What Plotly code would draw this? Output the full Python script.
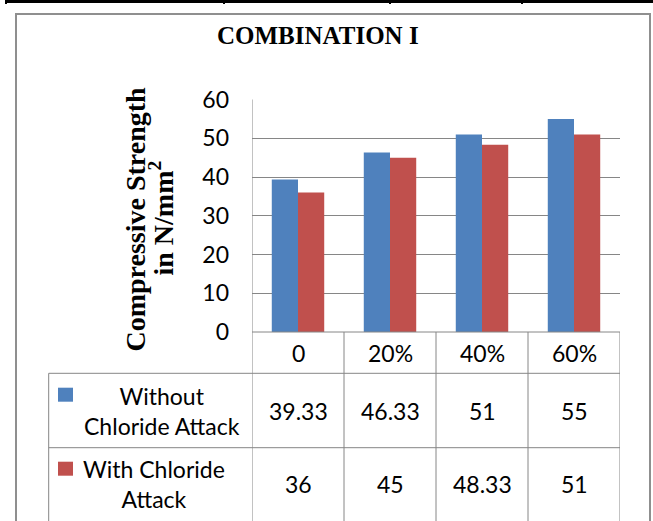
import plotly.graph_objects as go

# ---- data ----
categories = ["0", "20%", "40%", "60%"]
without_attack = [39.33, 46.33, 51, 55]
with_attack = [36, 45, 48.33, 51]
series_labels = ["Without<br>Chloride Attack", "With Chloride<br>Attack"]
series_colors = ["#4F81BD", "#C0504D"]
y_ticks = [0, 10, 20, 30, 40, 50, 60]
chart_title = "COMBINATION I"
y_title_lines = ["Compressive Strength", "in N/mm<sup>2</sup>"]

# ---- page geometry (pixels -> paper) ----
W, H = 653, 521


def px(x):
    return x / W


def py(y):
    return 1 - y / H


GRID = "#868686"
TXT_FONT = dict(family="Lato, Open Sans, sans-serif", size=23, color="black")
SERIF = "Liberation Serif, Times New Roman, serif"

PLOT_L, PLOT_R = 252, 620
PLOT_T, PLOT_B = 99.5, 332
ROW1_T, ROW2_T = 373.3, 447.7
TABLE_L = 48.7

fig = go.Figure()
fig.add_bar(x=categories, y=without_attack, marker=dict(color=series_colors[0], line=dict(width=0)),
            name="Without Chloride Attack", showlegend=False)
fig.add_bar(x=categories, y=with_attack, marker=dict(color=series_colors[1], line=dict(width=0)),
            name="With Chloride Attack", showlegend=False)

shapes = []


def line(x0, y0, x1, y1, xref="paper", color=GRID, width=1):
    shapes.append(dict(type="line", xref=xref, yref="paper", x0=x0, x1=x1,
                       y0=y0, y1=y1, line=dict(color=color, width=width), layer="above"))


# outer document-table border at the very top
line(px(6), py(1.5), px(653), py(1.5), color="black", width=3)
for xd in (6, 224, 390, 522):
    line(px(xd), py(0), px(xd), py(4), color="black", width=2)

# chart frame
shapes.append(dict(type="path", xref="paper", yref="paper",
                   path=f"M {px(16)} {py(530)} L {px(16)} {py(14)} L {px(650)} {py(14)} L {px(650)} {py(530)}",
                   line=dict(color="#8f8f8f", width=2)))

# data table grid (column borders follow the category axis)
n = len(categories)
line(px(PLOT_L), py(PLOT_B), px(PLOT_R), py(PLOT_B))
for i in range(n + 1):
    line(i - 0.5, py(PLOT_T if i == 0 else PLOT_B), i - 0.5, py(530), xref="x")
line(px(TABLE_L), py(ROW1_T), px(PLOT_R), py(ROW1_T))
line(px(TABLE_L), py(ROW2_T), px(PLOT_R), py(ROW2_T))
line(px(TABLE_L), py(ROW1_T), px(TABLE_L), py(530))

# legend keys in the table
for top, col in zip((387.7, 461.7), series_colors):
    shapes.append(dict(type="rect", xref="paper", yref="paper",
                       x0=px(58), x1=px(73), y0=py(top + 14), y1=py(top),
                       fillcolor=col, line=dict(width=0)))

annotations = []
# title
annotations.append(dict(text=f"<b>{chart_title}</b>", xref="paper", yref="paper",
                        x=px(317.5), y=py(35.5), showarrow=False, xanchor="center", yanchor="middle",
                        font=dict(family=SERIF, size=25, color="black")))
# y-axis title (two lines)
for txt, xc, yc in zip(y_title_lines, (134.5, 161.5), (219, 218)):
    annotations.append(dict(text=f"<b>{txt}</b>", xref="paper", yref="paper", x=px(xc), y=py(yc),
                            textangle=-90, showarrow=False, xanchor="center", yanchor="middle",
                            font=dict(family=SERIF, size=28, color="black")))
# header row: category labels
for i, c in enumerate(categories):
    annotations.append(dict(text=c, xref="x", yref="paper", x=i, y=py(353.3), showarrow=False,
                            xanchor="center", yanchor="middle", font=TXT_FONT))
# series rows
for label, vals, yc, xl in zip(series_labels, (without_attack, with_attack), (410.5, 484), (162, 153.5)):
    annotations.append(dict(text=label, xref="paper", yref="paper", x=px(xl), y=py(yc), showarrow=False,
                            xanchor="center", yanchor="middle", align="center", font=TXT_FONT))
    for i, v in enumerate(vals):
        annotations.append(dict(text=f"{v:g}", xref="x", yref="paper", x=i, y=py(yc), showarrow=False,
                                xanchor="center", yanchor="middle", font=TXT_FONT))

fig.update_layout(
    template="none",
    width=W, height=H,
    margin=dict(l=0, r=0, t=0, b=0, pad=0, autoexpand=False),
    paper_bgcolor="white", plot_bgcolor="white",
    barmode="group", bargap=0.43, bargroupgap=0,
    showlegend=False,
    xaxis=dict(type="category", domain=[px(PLOT_L), px(PLOT_R)], range=[-0.5, n - 0.5],
               showticklabels=False, showgrid=False, zeroline=False, showline=False, ticks="",
               automargin=False),
    yaxis=dict(domain=[py(PLOT_B), py(PLOT_T)], range=[0, 60], tickvals=y_ticks,
               showgrid=True, gridcolor=GRID, gridwidth=1, zeroline=False, automargin=False,
               showline=False, ticks="", ticklabelstandoff=22, tickfont=TXT_FONT),
    shapes=shapes,
    annotations=annotations,
)

fig.write_html("out.html")
